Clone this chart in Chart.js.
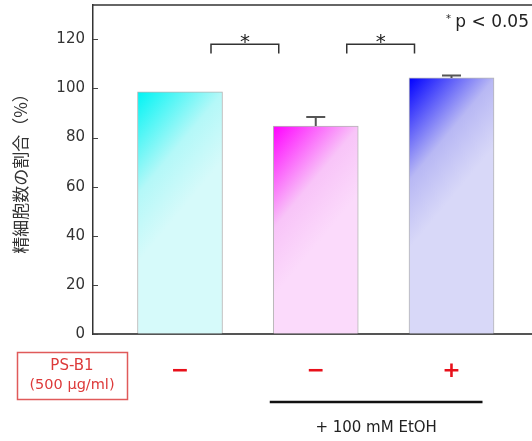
<!DOCTYPE html>
<html>
<head>
<meta charset="utf-8">
<script src="https://cdn.jsdelivr.net/npm/chart.js@4"></script>
<style>
  html, body { margin: 0; padding: 0; background: #fff; }
  #wrap { width: 532px; height: 441px; }
</style>
</head>
<body>
<div id="wrap"><canvas id="cellChart" width="532" height="441"></canvas></div>
<script>
// group markers for PS-B1 treatment under each bar
var psb1Signs = ['\u2212', '\u2212', '+'];
var cellRatio = [98.6, 84.7, 104.3];     // % of control
var errUpper = [0, 3.7, 1];              // SD, drawn upward only
var sigPairs = [[0, 1], [1, 2]];         // pairs marked with *
var sigLevel = 118;
var yTicks = [0, 20, 40, 60, 80, 100, 120];

var barColors = [
    ['#00f4f4', '#b4f8f8', '#d6fafa'],
    ['#ff00ff', '#f8c4f8', '#fbdafb'],
    ['#0000ff', '#b8b8f4', '#d8d8f8']
];

var textFont = "'DejaVu Sans', Verdana, sans-serif";

function barGradient(context) {
    var chart = context.chart;
    var i = context.dataIndex;
    var cols = barColors[i];
    if (!chart.chartArea || i === undefined) return cols[1];
    var xs = chart.scales.x, ys = chart.scales.y;
    var cx = xs.getPixelForValue(i + 1);
    var top = ys.getPixelForValue(cellRatio[i]);
    var g = chart.ctx.createLinearGradient(cx - 42, top, cx + 42, top + 70);
    g.addColorStop(0, cols[0]);
    g.addColorStop(0.6, cols[1]);
    g.addColorStop(1, cols[2]);
    return g;
}

var extras = {
    id: 'extras',
    afterDatasetsDraw: function(chart) {
        var ctx = chart.ctx;
        var area = chart.chartArea;
        var xs = chart.scales.x, ys = chart.scales.y;
        ctx.save();

        // frame top
        ctx.strokeStyle = '#333';
        ctx.lineWidth = 1.5;
        ctx.beginPath();
        ctx.moveTo(area.left, area.top);
        ctx.lineTo(chart.width, area.top);
        ctx.stroke();

        // inward y tick marks
        ctx.lineWidth = 1;
        ctx.strokeStyle = '#444';
        yTicks.forEach(function(t) {
            var y = Math.round(ys.getPixelForValue(t)) + 0.5;
            ctx.beginPath();
            ctx.moveTo(area.left, y);
            ctx.lineTo(area.left + 5, y);
            ctx.stroke();
        });

        // error bars
        ctx.strokeStyle = '#555';
        ctx.lineWidth = 2;
        cellRatio.forEach(function(v, i) {
            if (!errUpper[i]) return;
            var x = xs.getPixelForValue(i + 1);
            var y0 = ys.getPixelForValue(v);
            var y1 = ys.getPixelForValue(v + errUpper[i]);
            ctx.beginPath();
            ctx.moveTo(x, y0);
            ctx.lineTo(x, y1);
            ctx.moveTo(x - 9.5, y1);
            ctx.lineTo(x + 9.5, y1);
            ctx.stroke();
        });

        // significance brackets
        ctx.strokeStyle = '#333';
        ctx.lineWidth = 1.5;
        ctx.fillStyle = '#222';
        ctx.font = '20px ' + textFont;
        ctx.textAlign = 'center';
        ctx.textBaseline = 'alphabetic';
        var yTop = ys.getPixelForValue(sigLevel);
        var yLeg = ys.getPixelForValue(sigLevel - 3.8);
        sigPairs.forEach(function(p) {
            var x1 = xs.getPixelForValue(p[0] + 1) + 31;
            var x2 = xs.getPixelForValue(p[1] + 1) - 37;
            ctx.beginPath();
            ctx.moveTo(x1, yLeg);
            ctx.lineTo(x1, yTop);
            ctx.lineTo(x2, yTop);
            ctx.lineTo(x2, yLeg);
            ctx.stroke();
            ctx.fillText('*', (x1 + x2) / 2, yTop + 4);
        });

        // p value note
        ctx.textAlign = 'right';
        ctx.font = '17px ' + textFont;
        ctx.fillText('p < 0.05', 529, 27);
        ctx.font = '10px ' + textFont;
        ctx.fillText('*', 451, 22);

        // PS-B1 label box
        ctx.strokeStyle = '#e05a5a';
        ctx.lineWidth = 1.5;
        ctx.strokeRect(17.5, 352.5, 110, 47);
        ctx.fillStyle = '#dd3a3a';
        ctx.textAlign = 'center';
        ctx.textBaseline = 'middle';
        ctx.font = '15px ' + textFont;
        ctx.fillText('PS-B1', 72, 366);
        ctx.font = '14.5px ' + textFont;
        ctx.fillText('(500 \u03bcg/ml)', 72, 385);

        // ethanol group line
        var ex1 = xs.getPixelForValue(2) - 46;
        var ex2 = xs.getPixelForValue(3) + 31;
        ctx.strokeStyle = '#111';
        ctx.lineWidth = 2.5;
        ctx.beginPath();
        ctx.moveTo(ex1, 402);
        ctx.lineTo(ex2, 402);
        ctx.stroke();
        ctx.fillStyle = '#222';
        ctx.font = '15px ' + textFont;
        ctx.fillText('+ 100 mM EtOH', (ex1 + ex2) / 2, 428);

        ctx.restore();
    }
};

new Chart(document.getElementById('cellChart'), {
    type: 'bar',
    data: {
        datasets: [{
            data: cellRatio.map(function(v, i) { return { x: i + 1, y: v }; }),
            backgroundColor: barGradient,
            borderColor: 'rgba(120,120,120,0.55)',
            borderWidth: 1,
            barThickness: 85
        }]
    },
    options: {
        responsive: false,
        animation: false,
        layout: { padding: { top: 5, right: 0, left: 0, bottom: 0 } },
        plugins: {
            legend: { display: false },
            tooltip: { enabled: false }
        },
        scales: {
            x: {
                type: 'linear',
                offset: false,
                min: 0.3591,
                max: 3.593,
                grid: { display: false, offset: false },
                border: { display: true, color: '#555', width: 2 },
                afterFit: function(scale) {
                    scale.height = 107;
                    scale.paddingLeft = 0;
                    scale.paddingRight = 0;
                },
                afterBuildTicks: function(scale) {
                    scale.ticks = psb1Signs.map(function(s, i) { return { value: i + 1 }; });
                },
                ticks: {
                    autoSkip: false,
                    maxRotation: 0,
                    padding: 16,
                    color: '#e8101a',
                    font: { family: textFont, size: 22, weight: 'bold' },
                    callback: function(v, idx) { return psb1Signs[idx]; }
                }
            },
            y: {
                min: 0,
                max: 134,
                afterFit: function(scale) {
                    scale.width = 93;
                    scale.paddingTop = 0;
                    scale.paddingBottom = 0;
                },
                afterBuildTicks: function(scale) {
                    scale.ticks = yTicks.map(function(v) { return { value: v }; });
                },
                grid: { display: true, drawOnChartArea: false, drawTicks: false },
                border: { display: true, color: '#333', width: 1.5 },
                ticks: {
                    padding: 8,
                    color: '#333',
                    font: { family: textFont, size: 15 }
                },
                title: {
                    display: true,
                    text: '精細胞数の割合（%）',
                    color: '#333',
                    padding: { top: 10, bottom: 0 },
                    font: { family: "'Noto Sans CJK JP', sans-serif", size: 17 }
                }
            }
        }
    },
    plugins: [extras]
});
</script>
</body>
</html>
